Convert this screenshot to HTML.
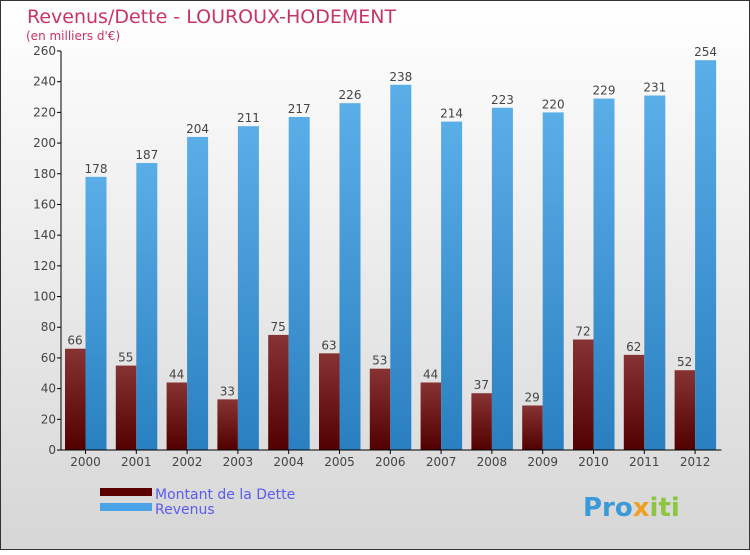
<!DOCTYPE html>
<html><head><meta charset="utf-8"><style>
body{margin:0}
svg text{font-family:"DejaVu Sans","Liberation Sans",sans-serif}
</style></head><body>
<svg width="750" height="550" xmlns="http://www.w3.org/2000/svg">
<defs>
<linearGradient id="bg" x1="0" y1="0" x2="0" y2="1"><stop offset="0" stop-color="#ffffff"/><stop offset="1" stop-color="#d6d6d6"/></linearGradient>
<linearGradient id="red" x1="0" y1="0" x2="0" y2="1"><stop offset="0" stop-color="#883333"/><stop offset="1" stop-color="#520000"/></linearGradient>
<linearGradient id="blue" x1="0" y1="0" x2="0" y2="1"><stop offset="0" stop-color="#5aaee8"/><stop offset="1" stop-color="#2a7fc0"/></linearGradient>
</defs>
<rect x="0.5" y="0.5" width="749" height="549" fill="url(#bg)" stroke="#333"/>
<text x="27" y="23" font-size="19" fill="#c8336a">Revenus/Dette - LOUROUX-HODEMENT</text>
<text x="26" y="40" font-size="12" fill="#c8336a">(en milliers d'€)</text>
<g id="plot"></g>
<rect x="100" y="488" width="52" height="8" fill="#5a0000"/>
<rect x="100" y="503" width="52" height="8" fill="#4aa3e6"/>
<text x="155" y="499" font-size="14" fill="#5b5bee">Montant de la Dette</text>
<text x="155" y="514" font-size="14" fill="#5b5bee">Revenus</text>
<text x="583" y="516" font-size="26" font-weight="bold" fill="#3a9ad9">Pro<tspan fill="#f0a020">x</tspan><tspan fill="#8cc63f">iti</tspan></text>
</svg>
<script>
const years=["2000","2001","2002","2003","2004","2005","2006","2007","2008","2009","2010","2011","2012"];
const debt=[66,55,44,33,75,63,53,44,37,29,72,62,52];
const revenue=[178,187,204,211,217,226,238,214,223,220,229,231,254];
const yTicks=[0,20,40,60,80,100,120,140,160,180,200,220,240,260];
const NS="http://www.w3.org/2000/svg";
const g=document.getElementById('plot');
const x0=61,step=50.8,yb=450,yt=51,ymax=260;
const y=v=>yb-(v/ymax)*(yb-yt);
function mk(t,a,txt){const e=document.createElementNS(NS,t);for(const k in a)e.setAttribute(k,a[k]);if(txt!==undefined)e.textContent=txt;g.appendChild(e);return e;}
yTicks.forEach(v=>{
 let l=mk('line',{x1:x0-4,x2:x0,y1:y(v),y2:y(v),stroke:'#000'});
 
 
 let t=mk('text',{x:x0-5,y:y(v)+4,'font-size':12,'text-anchor':'end',fill:'#444'},v);
 
 
});
years.forEach((yr,i)=>{
 const gx=x0+4+step*i;
 let r=mk('rect',{x:gx,y:y(debt[i]),width:20.5,height:yb-y(debt[i]),fill:'url(#red)'});
 
 
 let b=mk('rect',{x:gx+20.5,y:y(revenue[i]),width:21,height:yb-y(revenue[i]),fill:'url(#blue)'});
 
 
 let t1=mk('text',{x:gx+10,y:y(debt[i])-4,'font-size':12,'text-anchor':'middle',fill:'#444'},debt[i]);
 
 
 let t2=mk('text',{x:gx+31,y:y(revenue[i])-4,'font-size':12,'text-anchor':'middle',fill:'#444'},revenue[i]);
 
 
 let xl=mk('text',{x:gx+20.5,y:466,'font-size':12,'text-anchor':'middle',fill:'#444'},yr);
 
 
 let xt=mk('line',{x1:gx+20.5,x2:gx+20.5,y1:yb,y2:yb+4,stroke:'#000'});
 
 
});
let ya=mk('line',{x1:x0,x2:x0,y1:yt,y2:yb,stroke:'#000'});


let xa=mk('line',{x1:x0,x2:x0+step*13,y1:yb,y2:yb,stroke:'#000'});


</script>
</body></html>
